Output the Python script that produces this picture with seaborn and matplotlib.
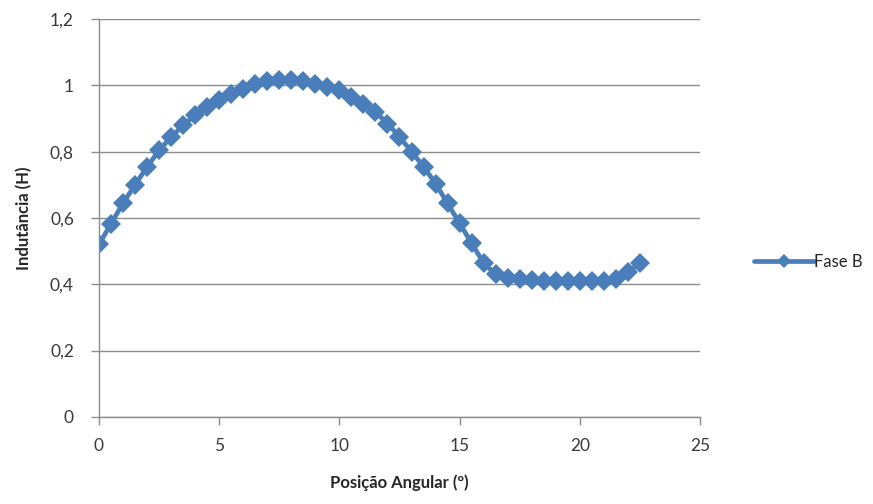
import matplotlib
matplotlib.use("Agg")
import matplotlib.pyplot as plt
from matplotlib.ticker import FuncFormatter
import numpy as np
import pandas as pd
import seaborn as sns

# Angular position (degrees) and measured inductance (H) for phase B
posicao = [0.0, 0.5, 1.0, 1.5, 2.0, 2.5, 3.0, 3.5, 4.0, 4.5,
           5.0, 5.5, 6.0, 6.5, 7.0, 7.5, 8.0, 8.5, 9.0, 9.5,
           10.0, 10.5, 11.0, 11.5, 12.0, 12.5, 13.0, 13.5, 14.0, 14.5,
           15.0, 15.5, 16.0, 16.5, 17.0, 17.5, 18.0, 18.5, 19.0, 19.5,
           20.0, 20.5, 21.0, 21.5, 22.0, 22.5]
fase_b = [0.52, 0.583, 0.644, 0.70, 0.754, 0.804, 0.844, 0.88, 0.91, 0.935,
          0.957, 0.975, 0.99, 1.003, 1.012, 1.016, 1.016, 1.012, 1.005, 0.996,
          0.985, 0.965, 0.945, 0.92, 0.885, 0.845, 0.80, 0.755, 0.704, 0.644,
          0.584, 0.524, 0.464, 0.43, 0.418, 0.415, 0.413, 0.411, 0.41, 0.41,
          0.41, 0.41, 0.411, 0.415, 0.437, 0.463]
serie = "Fase B"

x_ticks = [0, 5, 10, 15, 20, 25]
y_ticks = [0, 0.2, 0.4, 0.6, 0.8, 1.0, 1.2]

df = pd.DataFrame({"Posição": posicao, "Indutância": fase_b, "Série": serie})

sns.set_theme(style="white")
plt.rcParams["font.family"] = ["Lato", "DejaVu Sans"]

fig = plt.figure(figsize=(8.73, 5.04), dpi=100)
ax = fig.add_axes([0.1134, 0.173, 0.6884, 0.789])

blue = "#4A7EBB"
sns.lineplot(data=df, x="Posição", y="Indutância", hue="Série",
             palette=[blue], marker="D", markersize=10.5, markeredgewidth=0,
             linewidth=3.4, ax=ax)

ax.set_xlim(0, 25)
ax.set_ylim(0, 1.2)
ax.set_xticks(x_ticks)
ax.set_yticks(y_ticks)
ax.yaxis.set_major_formatter(FuncFormatter(
    lambda v, p: ("%g" % round(v, 1)).replace(".", ",")))

grid_c = "#8C8C8C"
ax.yaxis.grid(True, color=grid_c, linewidth=1.0)
ax.xaxis.grid(False)
ax.set_axisbelow(True)
for side in ("top", "right"):
    ax.spines[side].set_visible(False)
for side in ("left", "bottom"):
    ax.spines[side].set_color(grid_c)
    ax.spines[side].set_linewidth(1.0)

ax.tick_params(axis="both", which="major", direction="out", length=6,
               width=1.0, color=grid_c, labelsize=12.5, labelcolor="#3A3A3A",
               left=True, bottom=True)
ax.tick_params(axis="x", pad=9)
ax.tick_params(axis="y", pad=12)

ax.set_xlabel("Posição Angular (º)", fontsize=12, fontweight="bold",
              color="#262626", labelpad=15)
ax.set_ylabel("Indutância (H)", fontsize=12, fontweight="bold",
              color="#262626", labelpad=13)

leg = ax.legend(loc="center left", bbox_to_anchor=(1.065, 0.39), frameon=False,
                fontsize=12, handlelength=3.6, handletextpad=0.0,
                markerscale=0.7)
for t in leg.get_texts():
    t.set_color("#262626")

fig.savefig("out.png", dpi=100, facecolor="white")
